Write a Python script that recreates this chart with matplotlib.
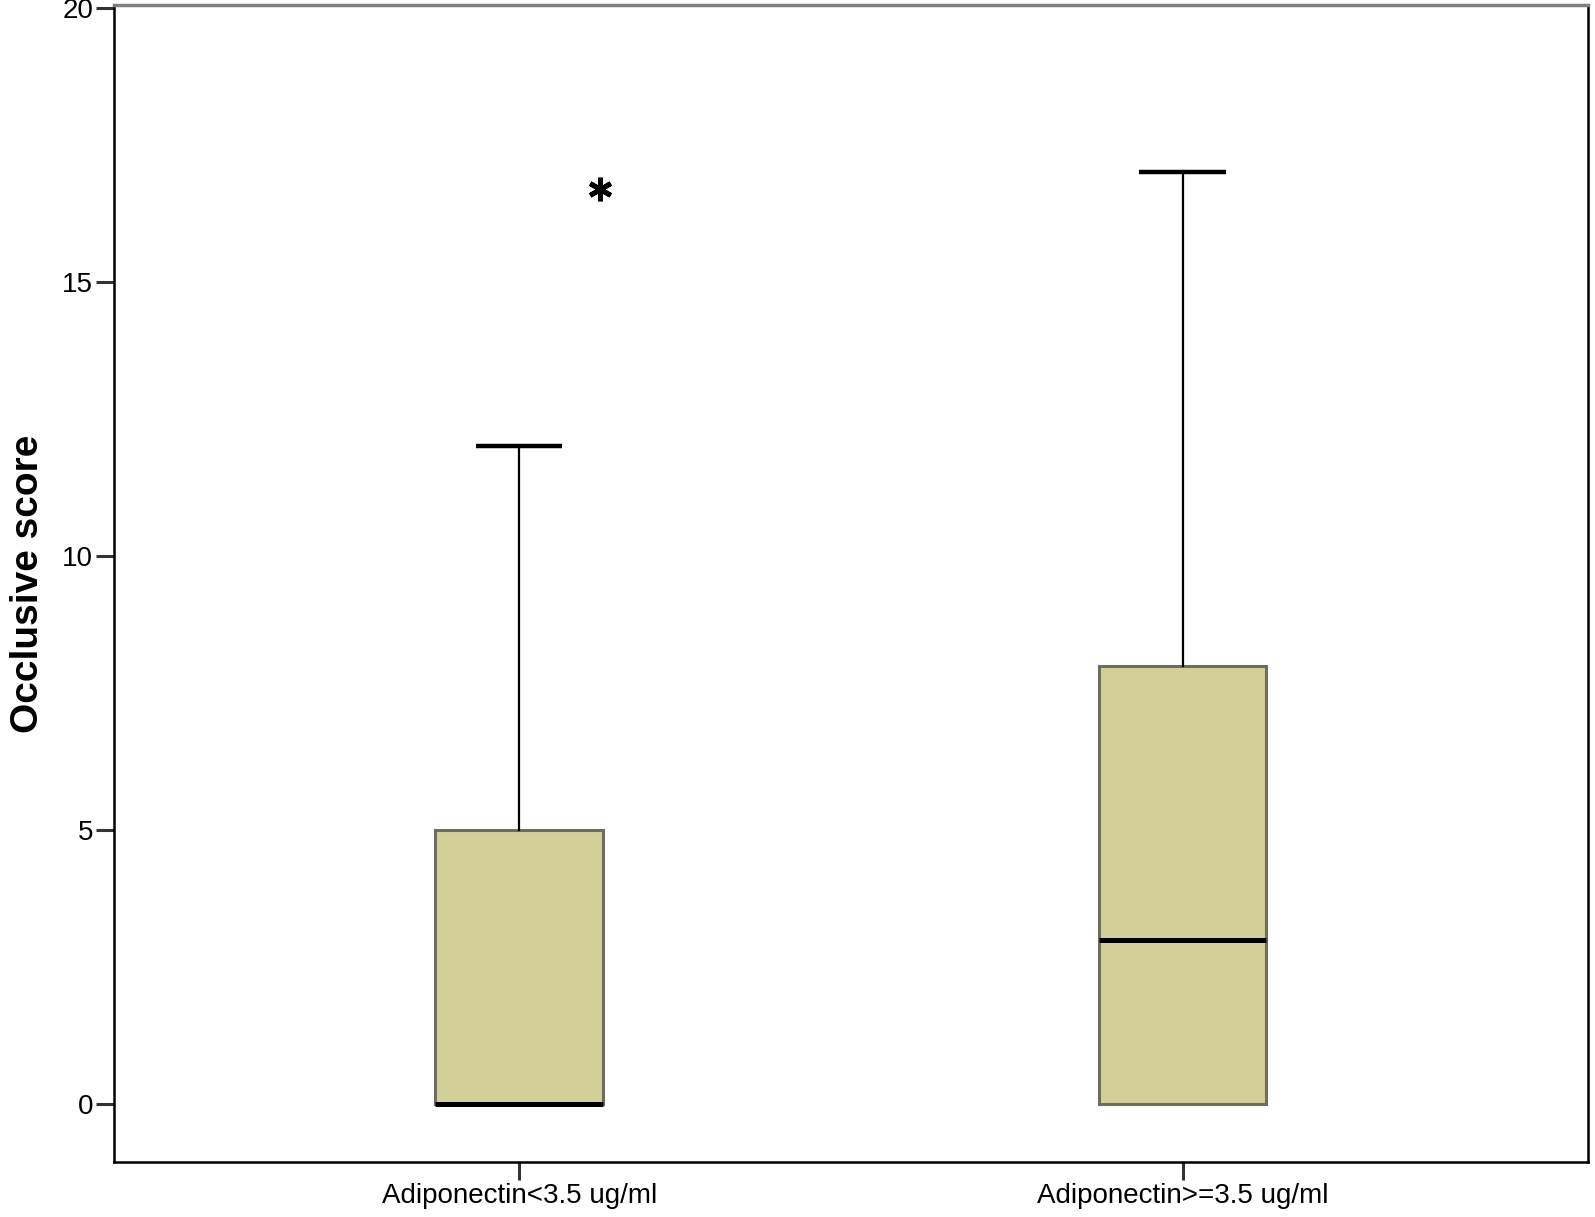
import matplotlib
matplotlib.use("Agg")
import matplotlib.pyplot as plt

plt.rcParams['font.family'] = ['Liberation Sans', 'DejaVu Sans']

groups = ["Adiponectin<3.5 ug/ml", "Adiponectin>=3.5 ug/ml"]
q1 = [0, 0]
med = [0, 3]
q3 = [5, 8]
wlo = [0, 0]
whi = [12, 17]
extremes = [[16.7], []]

yticks = [0, 5, 10, 15, 20]


def main():
    fig = plt.figure(figsize=(15.95, 12.17), dpi=100)
    ax = fig.add_axes([0.0715, 0.0452, 0.924, 0.9507])

    stats = []
    for i in range(len(groups)):
        stats.append(dict(label=groups[i], q1=q1[i], med=med[i], q3=q3[i],
                          whislo=wlo[i], whishi=whi[i], fliers=[]))

    pos = [1, 2]
    bp = ax.bxp(stats, positions=pos, widths=0.253, patch_artist=True,
                showfliers=False, capwidths=0.13,
                boxprops=dict(facecolor="#d3cf98", edgecolor="#6e6d5e", linewidth=2.2),
                medianprops=dict(color="black", linewidth=3.6, solid_capstyle="butt"),
                whiskerprops=dict(color="black", linewidth=1.6),
                capprops=dict(color="black", linewidth=3.2, solid_capstyle="butt"))

    # lower caps sit on the box edge, so hide them
    for c in bp["caps"][0::2]:
        c.set_visible(False)

    # extreme values drawn as asterisks, shifted right of the box centre
    for i in range(len(groups)):
        for v in extremes[i]:
            ax.plot(pos[i] + 0.122, v, marker=(6, 2, 0), color="black",
                    markersize=17, markeredgewidth=3.5, linestyle="none")

    ax.set_xlim(0.389, 2.611)
    ax.set_ylim(-1.05, 20.05)
    ax.set_yticks(yticks)
    ax.set_yticklabels([str(t) for t in yticks])
    ax.set_xticks(pos)
    ax.set_xticklabels(groups)

    ax.tick_params(axis="both", direction="out", length=13, width=2.2,
                   labelsize=20, color="#333333", pad=2)
    ax.set_ylabel("Occlusive score", fontsize=28, fontweight="bold", labelpad=12)

    for s in ["left", "bottom", "right"]:
        ax.spines[s].set_color("black")
        ax.spines[s].set_linewidth(1.8)
    ax.spines["top"].set_color("#808080")
    ax.spines["top"].set_linewidth(2.5)

    fig.savefig("out.png", dpi=100)


if __name__ == "__main__":
    main()
